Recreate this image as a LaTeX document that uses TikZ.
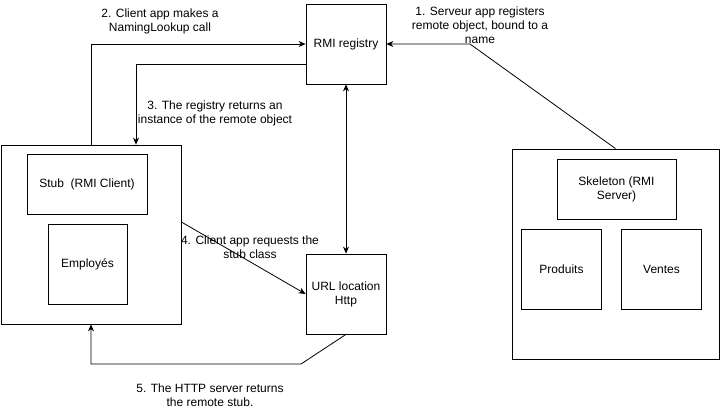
\documentclass[tikz,border=0pt]{standalone}
\usepackage{fontspec}
\setmainfont{Liberation Sans}
\usetikzlibrary{arrows.meta}
\begin{document}
\begin{tikzpicture}[x=1pt,y=-1pt,>={Stealth[length=7pt,width=6pt]},line width=0.8pt,
	box/.style={shape=rectangle, draw=black, align=center, inner sep=0pt, font=\fontsize{12}{14}\selectfont},
	lbl/.style={align=center, inner sep=0pt, font=\fontsize{12}{14}\selectfont}];
	\useasboundingbox (0,0) rectangle (723,415);
	\node[box, minimum width=80, minimum height=80] (registry) at (346,44) {RMI registry};
	\node[box, minimum width=180, minimum height=179] (client) at (91,234.5) {};
	\node[box, minimum width=120, minimum height=60] (stub) at (87,184) {Stub\ \ (RMI Client)};
	\node[box, minimum width=79, minimum height=80] (employes) at (87.5,264) {Employés};
	\node[box, minimum width=80, minimum height=80] (url) at (346,294) {URL location\\Http};
	
	\node[box, minimum width=207, minimum height=210] (server) at (615.5,254) {};
	\node[box, minimum width=119, minimum height=60] (skeleton) at (616.5,189) {Skeleton (RMI\\Server)};
	\node[box, minimum width=80, minimum height=80] (produits) at (561.5,269) {Produits};
	\node[box, minimum width=80, minimum height=80] (ventes) at (661.5,269) {Ventes};
	
	\coordinate (bend1) at (470,44);
	\coordinate (bend5) at (301,364);
	
	\draw[->] (server.north) -- (bend1) -- (registry.west -| registry.east);
	\draw[->] (client.north) |- (registry.west);
	\draw[->] ([yshift=-20]registry.west) -| ([xshift=45]client.north);
	\draw[<->] (registry.south) -- (url.north);
	\draw[->] ([yshift=12.5]client.east) -- (url.west);
	\draw[->] (url.south) -- (bend5) -| (client.south);
	
	\node[lbl] (l1) at (480,25) {1. Serveur app registers\\remote object, bound to a\\name};
	\node[lbl] (l2) at (160,21) {2. Client app makes a\\NamingLookup call};
	\node[lbl] (l3) at (215,113.5) {3. The registry returns an\\instance of the remote object};
	\node[lbl] (l4) at (250,247) {4. Client app requests the\\stub class};
	\node[lbl] (l5) at (210,395) {5. The HTTP server returns\\the remote stub.};
\end{tikzpicture}
\end{document}
